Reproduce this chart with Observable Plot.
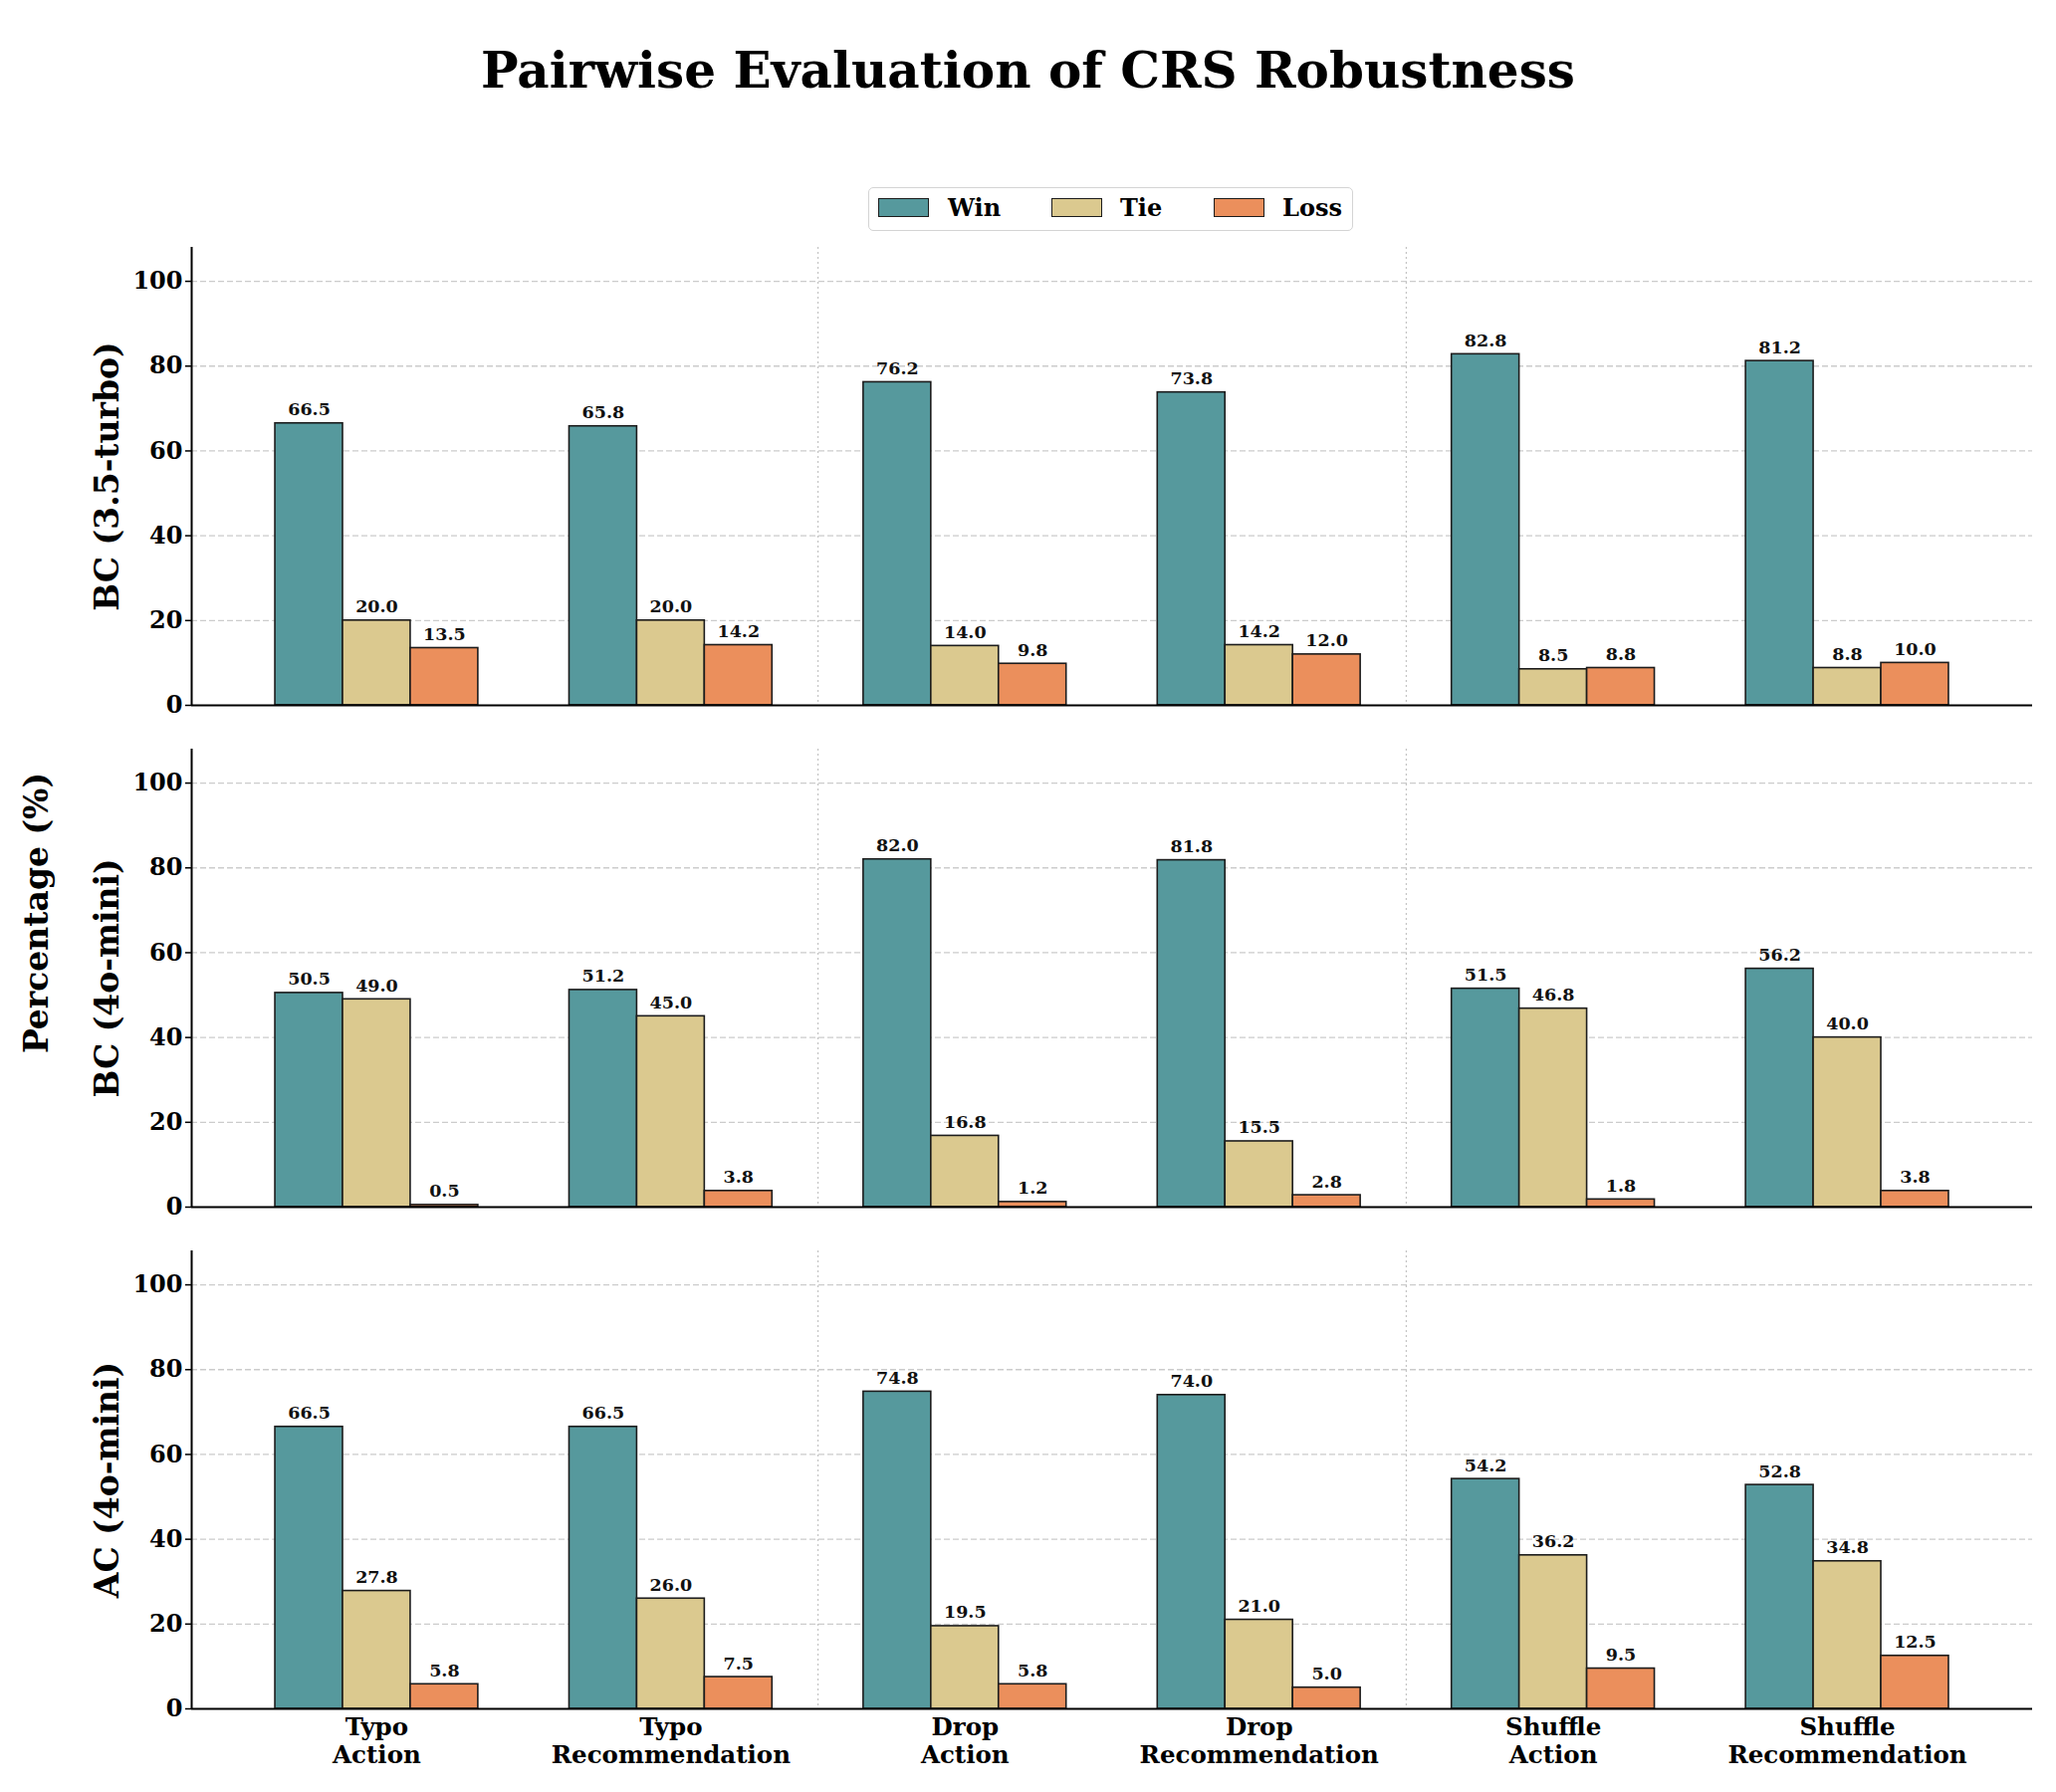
<!DOCTYPE html>
<html>
<head>
<meta charset="utf-8">
<script src="https://cdn.jsdelivr.net/npm/d3@7"></script>
<script src="https://cdn.jsdelivr.net/npm/@observablehq/plot@0.6"></script>
<style>
  body { margin: 0; background: #fff; }
  #wrap { position: relative; width: 2065px; height: 1800px; font-family: "DejaVu Serif", serif; font-weight: bold; color: #000; overflow: hidden; }
  #title { position: absolute; left: 0; width: 2065px; top: 41px; text-align: center; font-size: 50px; line-height: 60px; }
  #legend { position: absolute; left: 872px; top: 188px; width: 485px; height: 42px; border: 1.5px solid #d4d4d4; border-radius: 5px; box-sizing: content-box; }
  .sw { position: absolute; top: 10px; width: 49px; height: 17px; border: 1.5px solid #1c1c1c; }
  .lt { position: absolute; top: 5px; font-size: 24px; line-height: 30px; }
  #ylab { position: absolute; left: 36px; top: 917px; transform: translate(-50%, -50%) rotate(-90deg); font-size: 33px; white-space: nowrap; }
  .panel { position: absolute; left: 0; }
</style>
</head>
<body>
<div id="wrap">
  <div id="title">Pairwise Evaluation of CRS Robustness</div>
  <div id="legend"></div>
  <div id="ylab">Percentage (%)</div>
  <div id="p0" class="panel" style="top:228px"></div>
  <div id="p1" class="panel" style="top:732px"></div>
  <div id="p2" class="panel" style="top:1236px"></div>
</div>
<script>
// ---- data ----
const categories = ["Typo\nAction", "Typo\nRecommendation", "Drop\nAction", "Drop\nRecommendation", "Shuffle\nAction", "Shuffle\nRecommendation"];
const series = ["Win", "Tie", "Loss"];
const models = ["BC (3.5-turbo)", "BC (4o-mini)", "AC (4o-mini)"];

const bc35Win  = [66.5, 65.8, 76.2, 73.8, 82.8, 81.2];
const bc35Tie  = [20.0, 20.0, 14.0, 14.2, 8.5, 8.8];
const bc35Loss = [13.5, 14.2, 9.8, 12.0, 8.8, 10.0];

const bc4Win  = [50.5, 51.2, 82.0, 81.8, 51.5, 56.2];
const bc4Tie  = [49.0, 45.0, 16.8, 15.5, 46.8, 40.0];
const bc4Loss = [0.5, 3.8, 1.2, 2.8, 1.8, 3.8];

const ac4Win  = [66.5, 66.5, 74.8, 74.0, 54.2, 52.8];
const ac4Tie  = [27.8, 26.0, 19.5, 21.0, 36.2, 34.8];
const ac4Loss = [5.8, 7.5, 5.8, 5.0, 9.5, 12.5];

const yTicks = [0, 20, 40, 60, 80, 100];
const groupSeparators = [1.5, 3.5];

// ---- styling ----
const colors = ["#56999d", "#dbc98f", "#eb8f5c"];
const W = 0.23;
const nCat = categories.length;
const xDomain = [-1.5 * W - 0.05 * (nCat - 1 + 3 * W), (nCat - 1) + 1.5 * W + 0.05 * (nCat - 1 + 3 * W)];
const font = "'DejaVu Serif', serif";

// legend
const legend = document.getElementById("legend");
const swX = [9, 183, 346], txX = [79, 252, 415];
series.forEach((s, i) => {
  const sw = document.createElement("div");
  sw.className = "sw"; sw.style.left = swX[i] + "px"; sw.style.background = colors[i];
  legend.appendChild(sw);
  const t = document.createElement("div");
  t.className = "lt"; t.style.left = txX[i] + "px"; t.textContent = s;
  legend.appendChild(t);
});

const panels = [
  [bc35Win, bc35Tie, bc35Loss],
  [bc4Win, bc4Tie, bc4Loss],
  [ac4Win, ac4Tie, ac4Loss]
];

panels.forEach((vals, p) => {
  const rows = [];
  categories.forEach((c, i) => series.forEach((s, j) => rows.push({i, j, s, v: vals[j][i]})));
  const isBottom = p === panels.length - 1;
  const mb = isBottom ? 80 : 10;
  const chart = Plot.plot({
    width: 2065,
    height: 20 + 460 + mb,
    marginLeft: 192,
    marginRight: 24,
    marginTop: 20,
    marginBottom: mb,
    style: {fontFamily: font, fontWeight: "bold", fontSize: "24px", background: "transparent", overflow: "visible"},
    x: {domain: xDomain, axis: null},
    y: {domain: [0, 108], axis: null},
    color: {domain: series, range: colors},
    marks: [
      Plot.gridY(yTicks.filter(t => t > 0), {stroke: "#cccccc", strokeOpacity: 1, strokeWidth: 1.3, strokeDasharray: "6,3"}),
      Plot.ruleX(groupSeparators, {stroke: "#c4c4c4", strokeWidth: 1.2, strokeDasharray: "2,3"}),
      Plot.rectY(rows, {
        x1: d => d.i + (d.j - 1) * W - W / 2,
        x2: d => d.i + (d.j - 1) * W + W / 2,
        y1: 0, y2: "v", fill: "s", stroke: "#1c1c1c", strokeWidth: 1.6
      }),
      Plot.text(rows, {
        x: d => d.i + (d.j - 1) * W, y: "v", text: d => d.v.toFixed(1),
        dy: -8, lineAnchor: "bottom", fontSize: 17.5, fontWeight: "bold", fill: "#111"
      }),
      Plot.axisY({ticks: yTicks, tickSize: 6, tickPadding: 3, fontSize: 24, label: null, strokeWidth: 1.5}),
      isBottom ? Plot.axisX({ticks: d3.range(nCat), tickFormat: i => categories[i], tickSize: 0, tickPadding: 6, fontSize: 24.5, lineHeight: 1.15, label: null}) : null,
      Plot.ruleX([xDomain[0]], {stroke: "#000", strokeWidth: 2}),
      Plot.ruleY([0], {stroke: "#000", strokeWidth: 2}),
      Plot.text([models[p]], {frameAnchor: "left", rotate: -90, dx: -84, fontSize: 33, fontWeight: "bold", textAnchor: "middle", lineAnchor: "middle"})
    ]
  });
  document.getElementById("p" + p).appendChild(chart);
});
</script>
</body>
</html>
